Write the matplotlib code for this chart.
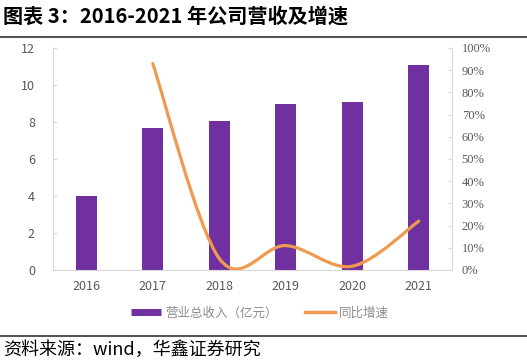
import numpy as np
import matplotlib.pyplot as plt
from matplotlib.path import Path
from matplotlib.patches import PathPatch
from matplotlib.lines import Line2D

plt.rcParams['font.family'] = ['Noto Sans CJK SC', 'DejaVu Sans']

# data
years = ['2016', '2017', '2018', '2019', '2020', '2021']
revenue = [4.0, 7.65, 8.05, 8.95, 9.1, 11.1]        # 营业总收入（亿元）
growth_years = ['2017', '2018', '2019', '2020', '2021']
growth = [93.0, 5.2, 11.0, 1.7, 22.0]               # 同比增速 (%)

purple = '#7030A0'
orange = '#F09A50'
grey_txt = '#595959'
grey_ax = '#D9D9D9'

fig = plt.figure(figsize=(5.27, 3.63), dpi=100)
ax = fig.add_axes([53 / 527, 1 - 270 / 363, 399 / 527, 222 / 363])
ax2 = ax.twinx()

x = np.arange(len(years))
ax.bar(x, revenue, width=0.32, color=purple, zorder=2)
ax.set_xlim(-0.5, len(years) - 0.5)
ax.set_ylim(0, 12)
ax.set_yticks(range(0, 13, 2))
ax.set_xticks(x)
ax.set_xticklabels(years)

# smoothed growth line (Catmull-Rom style bezier, like Excel's smoothed line)
gx = np.array([years.index(y) for y in growth_years], dtype=float)
gy = np.array(growth)
pts = np.column_stack([gx, gy])
verts = [pts[0]]
codes = [Path.MOVETO]
n = len(pts)
for i in range(n - 1):
    p0 = pts[i - 1] if i > 0 else pts[i]
    p1 = pts[i]
    p2 = pts[i + 1]
    p3 = pts[i + 2] if i + 2 < n else pts[i + 1]
    c1 = p1 + (p2 - p0) / 6
    c2 = p2 - (p3 - p1) / 6
    verts += [c1, c2, p2]
    codes += [Path.CURVE4] * 3
ax2.add_patch(PathPatch(Path(verts, codes), facecolor='none', edgecolor=orange,
                        lw=2.3, capstyle='round', zorder=3))
ax2.set_ylim(0, 100)
ax2.set_yticks(range(0, 101, 10))
ax2.set_yticklabels([f'{v}%' for v in range(0, 101, 10)],
                    family='Liberation Serif')

for a in (ax, ax2):
    for s in a.spines.values():
        s.set_color(grey_ax)
        s.set_linewidth(0.8)
    a.spines['top'].set_visible(False)
ax.spines['right'].set_visible(False)
ax2.spines['left'].set_visible(False)
ax2.spines['bottom'].set_visible(False)

ax.tick_params(axis='y', direction='in', length=3, color=grey_ax,
               labelcolor=grey_txt, labelsize=9, pad=13)
ax.tick_params(axis='x', length=0, labelcolor=grey_txt, labelsize=9, pad=7)
ax2.tick_params(axis='y', direction='in', length=3, color=grey_ax,
                labelcolor=grey_txt, labelsize=9, pad=7)

# legend
handles = [Line2D([], [], color=purple, lw=5, solid_capstyle='butt'),
           Line2D([], [], color=orange, lw=2.5)]
fig.legend(handles, ['营业总收入（亿元）', '同比增速'], loc='center',
           bbox_to_anchor=(260 / 527, 1 - 313 / 363), ncol=2, frameon=False,
           fontsize=9, labelcolor='#8c8c8c', handlelength=2.4,
           handletextpad=0.3, columnspacing=2.2)

# title, rules and source
fig.text(3 / 527, 1 - 16 / 363, '图表 3：2016-2021 年公司营收及增速',
         fontsize=14.5, fontweight='bold', va='center', ha='left')
fig.add_artist(Line2D([0, 1], [1 - 37 / 363] * 2, color='#333333', lw=1.2))
fig.add_artist(Line2D([0, 1], [1 - 336 / 363] * 2, color='#333333', lw=1.2))
fig.text(3 / 527, 1 - 350 / 363, '资料来源：wind，华鑫证券研究',
         fontsize=13, va='center', ha='left')

fig.savefig('out.png', dpi=100)
